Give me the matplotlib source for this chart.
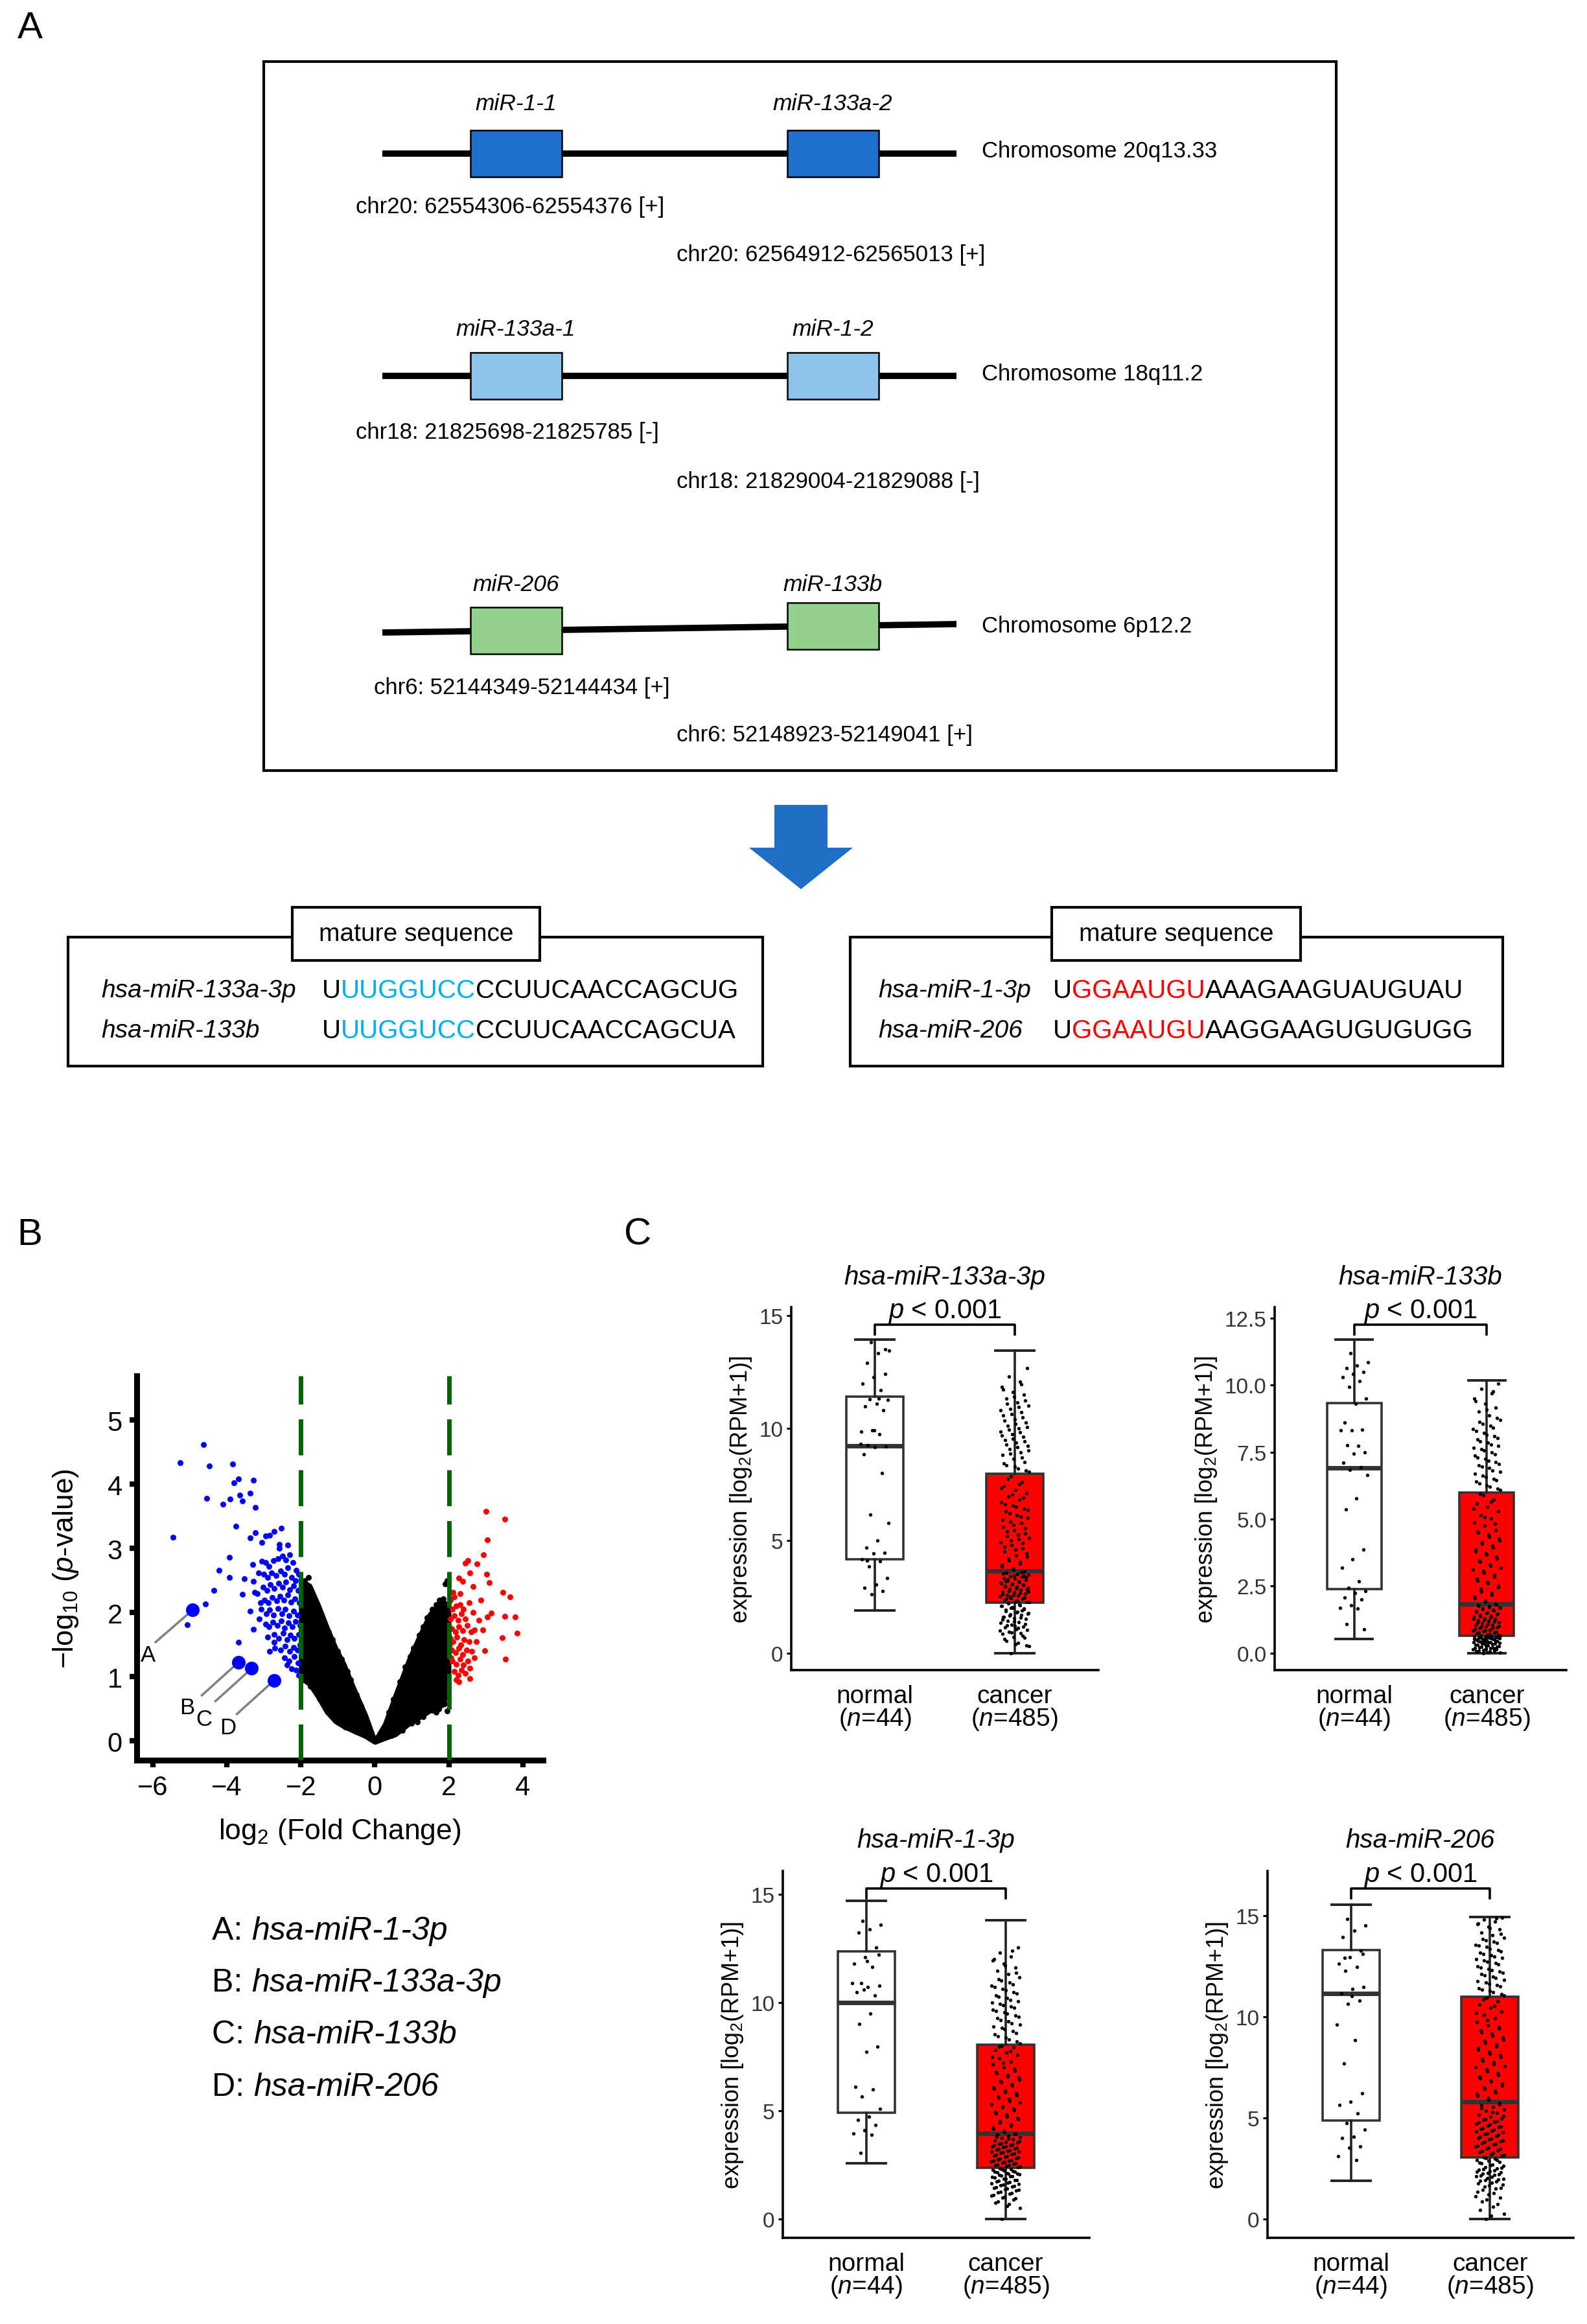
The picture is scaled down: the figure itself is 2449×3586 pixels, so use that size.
import matplotlib
matplotlib.use("Agg")
import matplotlib.pyplot as plt
import matplotlib.patches as mpatches
import matplotlib.transforms as mtransforms
import numpy as np

plt.rcParams['font.family'] = ['Liberation Sans', 'DejaVu Sans']
plt.rcParams['mathtext.fontset'] = 'custom'
plt.rcParams['mathtext.rm'] = 'Liberation Sans'
plt.rcParams['mathtext.it'] = 'Liberation Sans:italic'
plt.rcParams['mathtext.bf'] = 'Liberation Sans:bold'

# ---------------- panel A data ----------------
genes = [["miR-1-1", "miR-133a-2"], ["miR-133a-1", "miR-1-2"], ["miR-206", "miR-133b"]]
chromosomes = ["Chromosome 20q13.33", "Chromosome 18q11.2", "Chromosome 6p12.2"]
loci = [["chr20: 62554306-62554376 [+]", "chr20: 62564912-62565013 [+]"],
        ["chr18: 21825698-21825785 [-]", "chr18: 21829004-21829088 [-]"],
        ["chr6: 52144349-52144434 [+]", "chr6: 52148923-52149041 [+]"]]
gene_colors = ["#1f6fcc", "#8ec4ea", "#93d18c"]

mature_left = [("hsa-miR-133a-3p", "U", "UUGGUCC", "CCUUCAACCAGCUG"),
               ("hsa-miR-133b", "U", "UUGGUCC", "CCUUCAACCAGCUA")]
mature_right = [("hsa-miR-1-3p", "U", "GGAAUGU", "AAAGAAGUAUGUAU"),
                ("hsa-miR-206", "U", "GGAAUGU", "AAGGAAGUGUGUGG")]

# ---------------- panel B data (volcano) ----------------
# outline of the dense cloud of non-significant miRNAs
env_x = [-2.0, -1.76, -1.53, -1.3, -1.06, -0.83, -0.6, -0.25, 0.0, 0.27, 0.56, 0.91, 1.14,
         1.49, 1.84, 2.0]
env_hi = [2.5, 2.42, 2.12, 1.78, 1.45, 1.19, 0.86, 0.4, 0.0, 0.26, 0.72, 1.25, 1.55, 1.98,
          2.18, 2.1]
env_lo = [0.98, 0.88, 0.68, 0.45, 0.3, 0.22, 0.16, 0.07, -0.02, 0.04, 0.1, 0.26, 0.34, 0.47,
          0.56, 0.85]

black_pts = [(-1.8, 2.55), (-1.9, 2.5), (-1.95, 2.35), (-1.7, 2.3), (-1.62, 2.2), (-1.55, 2.05),
             (-1.45, 1.95), (-1.38, 1.85), (-1.25, 1.7), (-1.15, 1.58), (-1.0, 1.4), (-0.9, 1.28),
             (-0.75, 1.08), (-0.65, 0.95), (-0.5, 0.72), (-0.38, 0.55), (-1.85, 1.55), (-1.95, 1.2),
             (-1.92, 1.0), (-1.75, 0.85), (-1.5, 0.66), (-1.25, 0.45), (-1.1, 0.36), (-0.8, 0.22),
             (-0.5, 0.14), (-1.68, 1.75), (-1.35, 1.3), (-0.82, 0.9),
             (1.95, 2.5), (1.9, 2.45), (1.85, 2.22), (1.75, 2.2), (1.65, 2.12), (1.55, 2.05),
             (1.42, 1.92), (1.3, 1.78), (1.2, 1.65), (1.05, 1.45), (0.95, 1.32), (0.82, 1.15),
             (0.68, 0.92), (0.5, 0.65), (0.38, 0.45), (1.45, 0.5), (1.55, 0.48), (1.65, 0.45),
             (1.95, 0.47), (1.15, 0.3), (1.95, 0.72), (1.3, 0.38), (1.38, 1.55), (0.72, 0.8),
             (0.45, 0.08), (0.75, 0.16), (1.0, 0.28), (1.72, 0.5), (1.88, 0.58), (1.15, 1.1)]

blue_pts = [(-4.63, 4.62), (-5.26, 4.34), (-4.48, 4.29), (-3.85, 4.32), (-3.81, 4.02), (-3.68, 4.08),
            (-3.29, 4.06), (-4.55, 3.78), (-4.11, 3.69), (-3.91, 3.77), (-3.65, 3.83), (-3.58, 3.74),
            (-3.38, 3.86), (-3.23, 3.64), (-5.45, 3.17), (-3.76, 3.35), (-3.23, 3.25), (-3.38, 3.16),
            (-2.95, 3.19), (-2.85, 3.21), (-2.73, 3.27), (-2.53, 3.32), (-3.05, 3.09), (-2.58, 3.06),
            (-3.94, 2.86), (-4.21, 2.66), (-3.93, 2.55), (-3.53, 2.53), (-3.28, 2.49), (-4.35, 2.35),
            (-3.58, 2.29), (-3.25, 2.32), (-4.58, 2.13), (-3.38, 2.02), (-5.08, 1.81), (-3.28, 1.74),
            (-3.68, 1.54), (-2.73, 1.54),
            (-3.05, 2.8), (-2.95, 2.78), (-2.86, 2.72), (-2.75, 2.81), (-2.62, 2.84), (-2.5, 2.88),
            (-2.4, 2.82), (-2.3, 2.9), (-2.22, 2.78), (-2.12, 2.66), (-3.0, 2.6), (-2.9, 2.55),
            (-2.8, 2.62), (-2.68, 2.58), (-2.55, 2.65), (-2.45, 2.6), (-2.35, 2.7), (-2.25, 2.55),
            (-2.15, 2.5), (-2.05, 2.6), (-3.02, 2.4), (-2.92, 2.35), (-2.83, 2.44), (-2.72, 2.38),
            (-2.6, 2.46), (-2.5, 2.4), (-2.4, 2.48), (-2.3, 2.36), (-2.2, 2.42), (-2.08, 2.35),
            (-2.98, 2.2), (-2.88, 2.15), (-2.78, 2.24), (-2.66, 2.18), (-2.56, 2.26), (-2.46, 2.2),
            (-2.36, 2.28), (-2.26, 2.16), (-2.16, 2.22), (-2.04, 2.15), (-3.08, 2.05), (-2.94, 1.98),
            (-2.84, 2.04), (-2.74, 1.96), (-2.62, 2.06), (-2.52, 1.98), (-2.42, 2.05), (-2.32, 1.95),
            (-2.2, 2.02), (-2.1, 1.96), (-2.96, 1.82), (-2.86, 1.78), (-2.76, 1.85), (-2.64, 1.8),
            (-2.54, 1.87), (-2.44, 1.76), (-2.34, 1.84), (-2.24, 1.78), (-2.14, 1.86), (-2.03, 1.8),
            (-2.9, 1.62), (-2.72, 1.66), (-2.6, 1.6), (-2.48, 1.68), (-2.38, 1.58), (-2.28, 1.65),
            (-2.18, 1.6), (-2.06, 1.66), (-2.7, 1.45), (-2.55, 1.42), (-2.42, 1.48), (-2.3, 1.4),
            (-2.2, 1.46), (-2.1, 1.42), (-2.02, 1.5), (-2.45, 1.3), (-2.32, 1.25), (-2.18, 1.32),
            (-2.08, 1.22), (-2.38, 1.18), (-2.12, 1.1), (-2.05, 1.02), (-2.25, 1.12), (-3.3, 2.75),
            (-3.15, 2.62), (-3.18, 2.3), (-3.1, 2.15), (-3.12, 1.9), (-2.85, 1.4), (-2.58, 3.0),
            (-2.35, 3.05)]

red_pts = [(3.0, 3.58), (3.52, 3.46), (3.05, 3.13), (2.94, 2.9), (2.52, 2.81), (2.45, 2.77),
           (2.77, 2.76), (2.57, 2.62), (3.02, 2.6), (2.27, 2.54), (3.09, 2.47), (2.37, 2.49),
           (2.65, 2.41), (3.47, 2.32), (3.65, 2.25), (2.87, 2.2), (2.55, 2.15), (3.14, 1.99),
           (3.05, 1.93), (3.8, 1.93), (3.52, 1.94), (2.82, 1.88), (2.92, 1.73), (2.7, 1.73),
           (3.85, 1.68), (3.45, 1.61), (2.97, 1.41), (3.54, 1.28), (2.57, 1.13), (2.57, 0.97),
           (2.27, 0.92),
           (2.05, 2.2), (2.15, 2.25), (2.1, 2.05), (2.2, 2.1), (2.3, 2.12), (2.05, 1.9), (2.15, 1.95),
           (2.25, 1.88), (2.35, 1.98), (2.45, 1.9), (2.08, 1.75), (2.18, 1.7), (2.28, 1.78),
           (2.38, 1.72), (2.5, 1.8), (2.6, 1.7), (2.05, 1.6), (2.12, 1.55), (2.22, 1.62), (2.32, 1.5),
           (2.42, 1.58), (2.55, 1.55), (2.08, 1.42), (2.18, 1.38), (2.28, 1.45), (2.38, 1.35),
           (2.48, 1.42), (2.62, 1.4), (2.1, 1.25), (2.2, 1.2), (2.3, 1.28), (2.4, 1.18), (2.52, 1.25),
           (2.15, 1.08), (2.25, 1.02), (2.35, 1.1), (2.45, 1.05), (2.2, 0.95), (2.7, 1.3), (2.75, 1.55),
           (2.3, 2.3), (2.12, 2.32), (2.4, 2.05), (2.65, 2.0), (2.02, 1.5), (2.06, 1.3)]

labeled_names = ["A", "B", "C", "D"]
labeled_x = [-4.93, -3.68, -3.33, -2.73]
labeled_y = [2.04, 1.23, 1.13, 0.94]
label_line_end_x = [-5.93, -4.68, -4.31, -3.73]
label_line_end_y = [1.54, 0.71, 0.62, 0.42]
label_text_x = [-6.13, -5.08, -4.63, -3.98]
label_text_y = [1.34, 0.52, 0.34, 0.21]
legend_names = ["hsa-miR-1-3p", "hsa-miR-133a-3p", "hsa-miR-133b", "hsa-miR-206"]

# ---------------- panel C data (box plots) ----------------
groups = ["normal\n($\\mathit{n}$=44)", "cancer\n($\\mathit{n}$=485)"]

# (whislo, q1, median, q3, whishi)
stats_133a = [(1.9, 4.16, 9.2, 11.39, 13.94), (0.0, 2.24, 3.64, 7.96, 13.45)]
stats_133b = [(0.54, 2.38, 6.9, 9.33, 11.7), (0.0, 0.64, 1.84, 6.0, 10.17)]
stats_1_3p = [(2.58, 4.92, 10.0, 12.37, 14.7), (0.0, 2.35, 3.96, 8.05, 13.8)]
stats_206 = [(1.89, 4.86, 11.13, 13.3, 15.52), (0.0, 3.05, 5.8, 10.97, 14.94)]

normal_133a = [13.82, 13.45, 13.33, 12.9, 12.4, 12.27, 11.98, 11.68, 11.28, 11.24, 11.09, 10.97,
               10.8, 9.91, 9.84, 9.73, 9.25, 9.17, 9.14, 8.85, 8.0, 6.15, 5.78, 5.01, 4.68, 4.45,
               4.42, 4.16, 4.09, 3.86, 3.35, 3.05, 2.9, 2.76, 2.61, 9.3, 11.3, 4.12, 13.5, 9.9]
cancer_133a = [0.0, 0.31, 0.47, 0.55, 0.68, 0.72, 0.85, 0.88, 0.96, 1.04, 1.07, 1.16, 1.19, 1.27,
               1.35, 1.38, 1.44, 1.53, 1.55, 1.61, 1.7, 1.72, 1.79, 1.84, 1.93, 1.95, 2.01, 2.09,
               2.13, 2.21, 2.26, 2.3, 2.37, 2.41, 2.45, 2.52, 2.55, 2.6, 2.66, 2.7, 2.74, 2.81,
               2.85, 2.9, 2.93, 2.99, 3.04, 3.08, 3.12, 3.17, 3.22, 3.25, 3.31, 3.34, 3.4, 3.43,
               3.49, 3.52, 3.58, 3.62, 3.7, 3.85, 3.97, 4.12, 4.28, 4.35, 4.52, 4.66, 4.8, 4.93,
               5.07, 5.2, 5.31, 5.48, 5.6, 5.77, 5.85, 6.02, 6.14, 6.3, 6.41, 6.55, 6.7, 6.83,
               6.97, 7.1, 7.26, 7.42, 7.6, 7.85, 8.05, 8.2, 8.36, 8.5, 8.62, 8.8, 8.93, 9.08,
               9.2, 9.35, 9.47, 9.6, 9.72, 9.85, 9.98, 10.1, 10.25, 10.4, 10.55, 10.7, 10.86,
               11.0, 11.15, 11.3, 11.48, 11.6, 11.82, 12.05, 12.3, 12.65,
               0.4, 0.62, 0.78, 0.93, 1.0, 1.12, 1.23, 1.3, 1.42, 1.5, 1.58, 1.66, 1.75, 1.82,
               1.88, 1.98, 2.05, 2.11, 2.17, 2.23, 0.35, 1.2, 1.62, 1.9, 2.0,
               2.28, 2.34, 2.43, 2.48, 2.58, 2.63, 2.68, 2.77, 2.83, 2.88, 2.96, 3.01, 3.06, 3.14,
               3.19, 3.28, 3.36, 3.45, 3.55, 3.6, 2.5, 2.72, 2.95, 3.2, 3.46,
               3.78, 3.92, 4.05, 4.2, 4.42, 4.6, 4.72, 4.88, 5.0, 5.13, 5.26, 5.4, 5.55, 5.7,
               5.92, 6.08, 6.22, 6.36, 6.5, 6.62, 6.9, 7.05, 7.35, 7.52, 7.75,
               8.12, 8.28, 8.44, 8.7, 8.86, 9.0, 9.14, 9.28, 9.42, 9.54, 9.66, 9.8, 9.92, 10.05,
               10.18, 10.33, 10.48, 10.62, 10.8, 10.95, 11.08, 11.22, 11.4, 11.7, 11.95]

normal_133b = [11.19, 10.85, 10.73, 10.64, 10.48, 10.42, 10.3, 10.15, 9.93, 9.49, 9.31, 8.59, 8.34,
               8.32, 8.3, 7.72, 7.76, 7.48, 7.43, 7.1, 6.93, 6.83, 6.65, 5.78, 5.37, 3.86, 3.49,
               3.18, 2.69, 2.44, 2.31, 2.25, 2.07, 2.0, 1.78, 1.7, 1.66, 1.08, 0.89]
cancer_133b = [0.0, 0.03, 0.07, 0.1, 0.14, 0.16, 0.19, 0.22, 0.25, 0.27, 0.3, 0.32, 0.35, 0.37,
               0.4, 0.41, 0.43, 0.46, 0.47, 0.5, 0.52, 0.53, 0.55, 0.57, 0.58, 0.6, 0.61, 0.62,
               0.63, 0.64, 0.67, 0.7, 0.74, 0.78, 0.81, 0.85, 0.88, 0.93, 0.96, 1.0, 1.04, 1.07,
               1.12, 1.15, 1.2, 1.23, 1.27, 1.31, 1.35, 1.4, 1.43, 1.48, 1.52, 1.55, 1.6, 1.64,
               1.68, 1.72, 1.77, 1.81, 1.9, 2.05, 2.18, 2.3, 2.46, 2.6, 2.71, 2.85, 3.0, 3.12,
               3.25, 3.4, 3.53, 3.66, 3.8, 3.94, 4.07, 4.2, 4.35, 4.48, 4.6, 4.75, 4.88, 5.02,
               5.15, 5.3, 5.45, 5.58, 5.72, 5.9, 6.08, 6.2, 6.33, 6.45, 6.56, 6.7, 6.82, 6.95,
               7.05, 7.18, 7.3, 7.42, 7.55, 7.66, 7.78, 7.9, 8.02, 8.15, 8.28, 8.4, 8.55, 8.7,
               8.86, 9.0, 9.15, 9.3, 9.5, 9.68, 9.85, 10.05,
               0.02, 0.05, 0.09, 0.12, 0.15, 0.18, 0.21, 0.24, 0.28, 0.31, 0.34, 0.36, 0.39, 0.42,
               0.45, 0.48, 0.5, 0.54, 0.56, 0.59, 0.61, 0.63, 0.08, 0.2, 0.44,
               0.66, 0.72, 0.76, 0.8, 0.84, 0.9, 0.95, 0.98, 1.02, 1.09, 1.14, 1.18, 1.22, 1.29,
               1.33, 1.38, 1.45, 1.5, 1.57, 1.62, 1.66, 1.7, 1.75, 1.79, 1.83,
               1.95, 2.1, 2.25, 2.38, 2.52, 2.66, 2.78, 2.92, 3.06, 3.18, 3.32, 3.46, 3.6, 3.73,
               3.87, 4.0, 4.14, 4.28, 4.42, 4.55, 4.82, 5.08, 5.38, 5.65, 5.95,
               6.14, 6.26, 6.4, 6.5, 6.62, 6.76, 6.9, 7.0, 7.12, 7.24, 7.36, 7.48, 7.6, 7.72,
               7.84, 7.96, 8.1, 8.22, 8.35, 8.48, 8.62, 8.78, 9.08, 9.4, 9.75]

normal_1_3p = [13.77, 13.59, 13.39, 13.24, 12.55, 12.09, 11.78, 11.63, 10.89, 10.78, 10.71, 10.48,
               10.32, 10.6, 10.9, 9.48, 9.02, 7.95, 7.71, 6.1, 5.98, 5.64, 5.1, 4.72, 4.57, 4.34,
               4.11, 3.96, 3.88, 3.04, 12.2, 11.9]
cancer_1_3p = [0.0, 0.52, 0.7, 0.82, 0.95, 1.03, 1.12, 1.2, 1.26, 1.33, 1.4, 1.45, 1.52, 1.58,
               1.63, 1.7, 1.75, 1.8, 1.86, 1.9, 1.96, 2.0, 2.05, 2.1, 2.14, 2.19, 2.23, 2.27, 2.3,
               2.33, 2.38, 2.44, 2.49, 2.55, 2.6, 2.66, 2.7, 2.76, 2.82, 2.88, 2.93, 2.98, 3.04,
               3.1, 3.15, 3.2, 3.26, 3.31, 3.36, 3.42, 3.47, 3.52, 3.57, 3.62, 3.68, 3.73, 3.78,
               3.83, 3.88, 3.93, 4.02, 4.16, 4.3, 4.45, 4.6, 4.74, 4.88, 5.02, 5.15, 5.3, 5.45,
               5.58, 5.72, 5.86, 6.0, 6.15, 6.3, 6.44, 6.58, 6.72, 6.86, 7.0, 7.14, 7.28, 7.42,
               7.56, 7.7, 7.82, 7.92, 8.0, 8.12, 8.3, 8.45, 8.6, 8.76, 8.9, 9.05, 9.2, 9.34,
               9.48, 9.6, 9.74, 9.88, 10.0, 10.12, 10.26, 10.4, 10.55, 10.7, 10.84, 11.0, 11.15,
               11.3, 11.45, 11.6, 11.78, 11.95, 12.12, 12.3, 12.55,
               0.6, 0.76, 0.9, 1.0, 1.08, 1.16, 1.23, 1.3, 1.37, 1.43, 1.49, 1.55, 1.61, 1.67,
               1.73, 1.78, 1.84, 1.93, 1.98, 2.03, 2.08, 2.12, 2.17, 2.21, 2.31,
               2.41, 2.47, 2.52, 2.58, 2.63, 2.68, 2.73, 2.79, 2.85, 2.9, 2.96, 3.01, 3.07, 3.12,
               3.18, 3.23, 3.29, 3.34, 3.4, 3.45, 3.5, 3.6, 3.7, 3.8, 3.91,
               4.08, 4.22, 4.38, 4.52, 4.67, 4.81, 4.95, 5.08, 5.22, 5.38, 5.52, 5.65, 5.79, 5.93,
               6.08, 6.22, 6.37, 6.51, 6.65, 6.79, 6.93, 7.21, 7.49, 7.76, 7.97,
               8.2, 8.38, 8.52, 8.68, 8.83, 8.98, 9.12, 9.27, 9.41, 9.54, 9.67, 9.81, 9.94, 10.06,
               10.19, 10.33, 10.48, 10.62, 10.77, 10.92, 11.08, 11.38, 11.7, 12.0, 12.4]

normal_206 = [14.83, 14.5, 14.25, 13.92, 13.27, 12.94, 12.61, 12.45, 12.28, 11.46, 11.38, 11.13,
              10.8, 10.64, 9.62, 8.83, 7.68, 6.21, 5.8, 5.63, 5.22, 4.73, 4.4, 4.07, 3.99, 3.58,
              3.5, 3.09, 2.92, 12.9, 13.1, 11.0]
cancer_206 = [0.0, 0.25, 0.6, 0.85, 1.05, 1.2, 1.35, 1.48, 1.6, 1.7, 1.8, 1.88, 1.95, 2.02, 2.1,
              2.16, 2.22, 2.3, 2.36, 2.42, 2.5, 2.56, 2.62, 2.68, 2.75, 2.8, 2.86, 2.92, 2.97,
              3.02, 3.12, 3.2, 3.3, 3.4, 3.48, 3.57, 3.66, 3.75, 3.83, 3.92, 4.0, 4.1, 4.18, 4.27,
              4.35, 4.44, 4.53, 4.62, 4.7, 4.8, 4.88, 4.97, 5.06, 5.15, 5.24, 5.33, 5.42, 5.52,
              5.62, 5.72, 5.9, 6.08, 6.25, 6.42, 6.6, 6.78, 6.95, 7.12, 7.3, 7.48, 7.65, 7.82,
              8.0, 8.17, 8.35, 8.52, 8.7, 8.88, 9.05, 9.22, 9.4, 9.57, 9.74, 9.92, 10.1, 10.26,
              10.44, 10.6, 10.76, 10.92, 11.05, 11.2, 11.34, 11.48, 11.62, 11.76, 11.9, 12.03,
              12.16, 12.3, 12.44, 12.57, 12.7, 12.84, 12.97, 13.1, 13.24, 13.37, 13.5, 13.63,
              13.76, 13.9, 14.03, 14.16, 14.3, 14.45, 14.58, 14.7, 14.8, 14.9,
              0.15, 0.45, 0.72, 0.95, 1.12, 1.28, 1.42, 1.54, 1.65, 1.75, 1.84, 1.92, 1.99, 2.06,
              2.13, 2.19, 2.26, 2.33, 2.39, 2.46, 2.53, 2.65, 2.78, 2.9, 3.0,
              3.16, 3.25, 3.35, 3.44, 3.53, 3.62, 3.7, 3.79, 3.88, 3.96, 4.05, 4.14, 4.22, 4.31,
              4.4, 4.49, 4.58, 4.66, 4.75, 4.84, 4.93, 5.1, 5.28, 5.47, 5.67,
              5.98, 6.16, 6.34, 6.51, 6.69, 6.86, 7.04, 7.21, 7.39, 7.56, 7.74, 7.91, 8.09, 8.26,
              8.44, 8.61, 8.79, 8.96, 9.14, 9.31, 9.48, 9.83, 10.18, 10.52, 10.84,
              11.12, 11.27, 11.41, 11.55, 11.69, 11.83, 11.96, 12.1, 12.23, 12.37, 12.5, 12.64,
              12.77, 12.9, 13.04, 13.17, 13.3, 13.44, 13.56, 13.7, 13.83, 14.1, 14.38, 14.62, 14.85]

W, H = 2449, 3587
fig = plt.figure(figsize=(W / 100, H / 100), dpi=100)

# overlay axes in pixel units for the diagram parts
ov = fig.add_axes([0, 0, 1, 1])
ov.set_xlim(0, W)
ov.set_ylim(H, 0)
ov.axis('off')


def rich_text(ax, x, y, parts, **kw):
    """parts: list of (string, color, style); drawn one after another"""
    s, c, st = parts[0]
    t = ax.text(x, y, s, color=c, style=st, va='center', **kw)
    for s, c, st in parts[1:]:
        t = ax.annotate(s, xy=(1, 0), xycoords=t, va='bottom', color=c, style=st, **kw)
    return t


# ---- panel A ----
ov.add_patch(mpatches.Rectangle((407, 96), 1655, 1094, fill=False, ec='black', lw=3))
row_y_left = [238, 581, 977]
row_y_right = [238, 581, 964]
label_y = [160, 508, 902]
locus_y = [(320, 394), (668, 744), (1062, 1135)]
locus_x = [(549, 1044), (549, 1044), (577, 1044)]
box_x = [726, 1215]
for i in range(3):
    ov.plot([590, 1476], [row_y_left[i], row_y_right[i]], color='black', lw=7,
            solid_capstyle='butt', zorder=2)
    for j, bx in enumerate(box_x):
        yc = row_y_left[i] + (row_y_right[i] - row_y_left[i]) * (bx + 70 - 590) / 886
        ov.add_patch(mpatches.Rectangle((bx, yc - 36), 141, 72, fc=gene_colors[i],
                                        ec='black', lw=1.8, zorder=3))
        ov.text(bx + 70, label_y[i], genes[i][j], style='italic', fontsize=25.5,
                ha='center', va='center')
    ov.text(1515, (row_y_left[i] + row_y_right[i]) / 2 - 4, chromosomes[i], fontsize=25,
            ha='left', va='center')
    for k in range(2):
        ov.text(locus_x[i][k], locus_y[i][k], loci[i][k], fontsize=25, ha='left', va='center')

# arrow
ov.add_patch(mpatches.Polygon([(1195, 1243), (1277, 1243), (1277, 1309), (1316, 1309),
                               (1236, 1373), (1156, 1309), (1195, 1309)],
                              closed=True, fc='#1f6fc6', ec='none'))

# mature sequence boxes
for (bx, bw, tx, tw, rows, hl, nx, sx) in [
        (105, 1072, 451, 382, mature_left, '#00b0f0', 156, 497),
        (1312, 1007, 1623, 384, mature_right, '#ff0000', 1355, 1625)]:
    ov.add_patch(mpatches.Rectangle((bx, 1447), bw, 199, fill=False, ec='black', lw=3))
    ov.add_patch(mpatches.Rectangle((tx, 1401), tw, 82, fc='white', ec='black', lw=3, zorder=3))
    ov.text(tx + tw / 2, 1442, "mature sequence", fontsize=28, ha='center', va='center',
            zorder=4)
    for r, ry in zip(rows, [1529, 1591]):
        ov.text(nx, ry, r[0], style='italic', fontsize=28, ha='left', va='center')
        rich_text(ov, sx, ry, [(r[1], 'black', 'normal'), (r[2], hl, 'normal'),
                               (r[3], 'black', 'normal')], fontsize=29)

# panel letters
for letter, (lx, ly) in zip("ABC", [(46, 44), (46, 1906), (984, 1906)]):
    ov.text(lx, ly, letter, fontsize=42, ha='center', va='center')

# legend of panel B
for letter, name, ly in zip(labeled_names, legend_names, [2980, 3060, 3140, 3221]):
    rich_text(ov, 327, ly, [(letter + ": ", 'black', 'normal'), (name, 'black', 'italic')],
              fontsize=36)

# ---- panel B: volcano ----
axv = fig.add_axes([211 / W, 1 - 2717 / H, 627 / W, 593 / H])
axv.fill_between(env_x, env_lo, env_hi, color='black', lw=5, zorder=2)
axv.scatter([p[0] for p in black_pts], [p[1] for p in black_pts], s=42, c='black',
            lw=0, zorder=2)
axv.scatter([p[0] for p in blue_pts], [p[1] for p in blue_pts], s=42, c='#0000ff',
            lw=0, zorder=3)
axv.scatter([p[0] for p in red_pts], [p[1] for p in red_pts], s=42, c='#ff0000',
            lw=0, zorder=3)
axv.scatter(labeled_x, labeled_y, s=230, c='#0000ff', lw=0, zorder=4)
for i in range(4):
    axv.plot([labeled_x[i], label_line_end_x[i]], [labeled_y[i], label_line_end_y[i]],
             color='#808080', lw=2.5, zorder=3)
    axv.text(label_text_x[i], label_text_y[i], labeled_names[i], fontsize=25,
             ha='center', va='center')
for xv in (-2, 2):
    axv.axvline(xv, color='#006400', lw=5, dashes=(8, 3.3), zorder=5)
axv.set_xlim(-6.44, 4.55)
axv.set_ylim(-0.3, 5.69)
axv.set_xticks([-6, -4, -2, 0, 2, 4])
axv.set_yticks([0, 1, 2, 3, 4, 5])
for sp in ('top', 'right'):
    axv.spines[sp].set_visible(False)
for sp in ('left', 'bottom'):
    axv.spines[sp].set_linewidth(6.5)
axv.tick_params(length=8, width=6, labelsize=30, pad=8)
axv.set_xlabel("log$_2$ (Fold Change)", fontsize=32, labelpad=18)
axv.set_ylabel("\u2212log$_{10}$ ($\\mathit{p}$-value)", fontsize=32, labelpad=30)


# ---- panel C: box plots ----
def jitter(n):
    return ((np.arange(n) * 0.6180339 + 0.37) % 1.0 - 0.5) * 0.21


def box_panel(rect, title, stats, normal_vals, cancer_vals, ylim, yticks, yticklabels):
    ax = fig.add_axes(rect)
    bstats = [dict(whislo=s[0], q1=s[1], med=s[2], q3=s[3], whishi=s[4], fliers=[])
              for s in stats]
    bp = ax.bxp(bstats, positions=[1, 2], widths=0.41, patch_artist=True, showfliers=False,
                capwidths=0.28, manage_ticks=False,
                boxprops=dict(lw=2.6, edgecolor='#333333'),
                whiskerprops=dict(lw=2.6, color='#222222'),
                capprops=dict(lw=2.8, color='#222222'),
                medianprops=dict(lw=5, color='#333333'))
    bp['boxes'][0].set_facecolor('white')
    bp['boxes'][1].set_facecolor('#ff0000')
    for pos, vals in ((1, normal_vals), (2, cancer_vals)):
        ax.scatter(pos + jitter(len(vals)), vals, s=15, c='black', lw=0, zorder=4)
    trans = mtransforms.blended_transform_factory(ax.transData, ax.transAxes)
    ax.plot([1, 1, 2, 2], [0.925, 0.952, 0.952, 0.925], transform=trans, color='black',
            lw=2.6, clip_on=False)
    ax.text(1.5, 0.99, "$\\mathit{p}$ < 0.001", transform=trans, ha='center', va='center',
            fontsize=30)
    ax.text(0.5, 1.084, title, transform=ax.transAxes, ha='center', va='center',
            style='italic', fontsize=29)
    ax.set_xlim(0.4, 2.6)
    ax.set_ylim(*ylim)
    ax.set_xticks([1, 2])
    ax.set_xticklabels(groups, fontsize=28, linespacing=0.9)
    ax.set_yticks(yticks)
    ax.set_yticklabels(yticklabels, fontsize=24, color='#333333')
    ax.tick_params(axis='x', length=0, pad=16)
    ax.tick_params(axis='y', length=5, width=2.2, pad=4)
    for sp in ('top', 'right'):
        ax.spines[sp].set_visible(False)
    for sp in ('left', 'bottom'):
        ax.spines[sp].set_linewidth(2.6)
    ax.set_ylabel("expression [log$_2$(RPM+1)]", fontsize=26, labelpad=6)
    return ax


box_panel([1221 / W, 1 - 2578 / H, 474 / W, 560 / H], "hsa-miR-133a-3p", stats_133a,
          normal_133a, cancer_133a, (-0.75, 15.37), [0, 5, 10, 15], ["0", "5", "10", "15"])
box_panel([1967 / W, 1 - 2578 / H, 450 / W, 560 / H], "hsa-miR-133b", stats_133b,
          normal_133b, cancer_133b, (-0.63, 12.9), [0, 2.5, 5, 7.5, 10, 12.5],
          ["0.0", "2.5", "5.0", "7.5", "10.0", "12.5"])
box_panel([1208 / W, 1 - 3454 / H, 473 / W, 566 / H], "hsa-miR-1-3p", stats_1_3p,
          normal_1_3p, cancer_1_3p, (-0.87, 16.07), [0, 5, 10, 15], ["0", "5", "10", "15"])
box_panel([1956 / W, 1 - 3454 / H, 472 / W, 566 / H], "hsa-miR-206", stats_206,
          normal_206, cancer_206, (-0.94, 17.2), [0, 5, 10, 15], ["0", "5", "10", "15"])

fig.savefig("out.png", dpi=100)
